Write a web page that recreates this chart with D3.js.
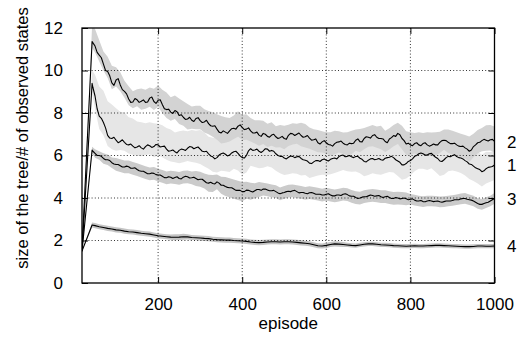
<!DOCTYPE html>
<html><head><meta charset="utf-8">
<script src="https://cdn.jsdelivr.net/npm/d3@7"></script>
<style>
html,body{margin:0;padding:0;background:#fff;}
svg{display:block;}
text{font-family:"Liberation Sans",Arial,Helvetica,sans-serif;fill:#000;}
</style></head>
<body>
<svg id="chart" width="520" height="341"></svg>
<script>
// ---------------- data ----------------
// main samples: episodes 19, 43, 50, 60, ..., 1000
const episodes = [19, 43].concat(d3.range(50, 1001, 10));
// in-between samples: episodes 45, 55, ..., 995
const midEpisodes = d3.range(45, 1000, 10);
const xTicks = [200, 400, 600, 800, 1000];
const yTicks = [0, 2, 4, 6, 8, 10, 12];

const s2 = [1.6, 11.36,
  11.15, 10.72, 10.3, 9.95, 9.42, 9.55, 9.32, 9.02, 8.66, 8.52,
  8.62, 8.55, 8.5, 8.7, 8.54, 8.6, 8.4, 8.16, 8.04, 8.12,
  7.88, 7.8, 7.72, 7.66, 7.74, 7.64, 7.58, 7.5, 7.38, 7.24,
  7.06, 7.1, 7.16, 7.28, 7.38, 7.32, 7.24, 7.16, 7.06, 6.96,
  7.04, 6.9, 6.96, 6.88, 6.84, 6.8, 6.95, 7.02, 7.0, 6.94,
  6.88, 6.82, 6.74, 6.6, 6.64, 6.6, 6.5, 6.56, 6.64, 6.58,
  6.5, 6.56, 6.72, 6.65, 6.8, 6.86, 6.94, 6.86, 6.8, 6.66,
  6.78, 6.94, 7.04, 6.8, 6.54, 6.5, 6.56, 6.5, 6.56, 6.5,
  6.48, 6.5, 6.62, 6.72, 6.62, 6.56, 6.5, 6.42, 6.36, 6.2,
  6.42, 6.6, 6.7, 6.72, 6.74, 6.66];
const s2Mid = [
  11.3, 10.85, 10.6, 10.0, 9.75, 9.3, 9.62, 9.1, 8.9, 8.5,
  8.68, 8.5, 8.62, 8.52, 8.75, 8.45, 8.62, 8.2, 8.18, 7.98,
  8.06, 7.92, 7.7, 7.8, 7.6, 7.78, 7.55, 7.66, 7.4, 7.4,
  7.1, 7.16, 7.04, 7.26, 7.24, 7.44, 7.22, 7.3, 7.06, 7.1,
  6.9, 7.0, 6.86, 7.0, 6.8, 6.9, 6.76, 7.04, 6.94, 7.06,
  6.86, 6.94, 6.72, 6.78, 6.54, 6.7, 6.52, 6.44, 6.62, 6.68,
  6.52, 6.58, 6.58, 6.78, 6.64, 6.88, 6.82, 6.98, 6.8, 6.78,
  6.6, 6.84, 6.9, 6.98, 6.7, 6.58, 6.46, 6.6, 6.46, 6.6,
  6.44, 6.54, 6.5, 6.7, 6.7, 6.56, 6.58, 6.44, 6.44, 6.3,
  6.26, 6.5, 6.62, 6.76, 6.68, 6.76];
const s2Up = [0, .75,
  .8, .7, .6, .7, .8, .6, .6, .5, .6, .5,
  .5, .6, .6, .5, .6, .7, .7, .8, .7, .7,
  .8, .75, .7, .65, .6, .7, .6, .6, .65, .7,
  .8, .7, .6, .6, .7, .6, .7, .6, .6, .7,
  .6, .6, .6, .5, .6, .6, .5, .5, .5, .6,
  .6, .5, .5, .6, .5, .5, .6, .6, .5, .5,
  .6, .6, .5, .6, .5, .5, .5, .5, .6, .5,
  .5, .5, .5, .6, .6, .6, .5, .6, .5, .6,
  .6, .6, .5, .5, .6, .6, .6, .6, .6, .7,
  .6, .6, .6, .7, .7, .7];
const s2Dn = [0, .3,
  .3, .3, .3, .3, .3, .3, .3, .3, .3, .3,
  .3, .4, .3, .4, .4, .3, .4, .4, .4, .4,
  .4, .4, .5, .4, .5, .4, .5, .5, .5, .5,
  .5, .5, .5, .5, .5, .6, .5, .5, .5, .5,
  .5, .5, .5, .5, .45, .5, .5, .5, .45, .5,
  .5, .5, .5, .45, .5, .5, .5, .5, .5, .5,
  .5, .5, .5, .5, .5, .45, .5, .5, .5, .5,
  .5, .5, .5, .5, .5, .5, .45, .5, .5, .5,
  .5, .5, .5, .45, .5, .5, .5, .5, .5, .5,
  .5, .5, .5, .5, .5, .5];

const s1 = [1.5, 9.4,
  8.8, 7.85, 7.55, 6.95, 6.8, 6.72, 6.66, 6.62, 6.5, 6.44,
  6.4, 6.36, 6.42, 6.46, 6.42, 6.5, 6.42, 6.3, 6.22, 6.18,
  6.24, 6.28, 6.34, 6.4, 6.36, 6.3, 6.18, 6.08, 5.94, 5.9,
  6.08, 6.06, 6.02, 6.18, 6.1, 5.9, 6.0, 6.32, 6.26, 6.2,
  6.22, 6.3, 6.24, 6.08, 5.96, 5.88, 5.92, 5.96, 5.94, 5.86,
  5.78, 5.64, 5.7, 5.76, 5.8, 5.78, 5.82, 5.88, 5.95, 6.02,
  5.96, 5.94, 5.95, 5.87, 5.72, 5.78, 5.86, 5.82, 5.8, 5.87,
  5.92, 5.9, 5.74, 5.56, 5.62, 5.76, 5.96, 6.08, 6.08, 6.02,
  6.1, 5.92, 5.74, 5.8, 5.96, 6.0, 5.95, 5.88, 5.76, 5.6,
  5.5, 5.38, 5.24, 5.38, 5.46, 5.55];
const s1Mid = [
  9.2, 8.2, 7.75, 7.3, 6.82, 6.86, 6.6, 6.74, 6.52, 6.54,
  6.36, 6.46, 6.3, 6.5, 6.38, 6.52, 6.4, 6.44, 6.2, 6.26,
  6.12, 6.3, 6.24, 6.42, 6.32, 6.4, 6.2, 6.2, 5.98, 5.84,
  6.02, 6.12, 5.98, 6.12, 6.2, 5.98, 5.88, 6.22, 6.24, 6.3,
  6.14, 6.32, 6.2, 6.2, 6.0, 5.96, 5.84, 5.98, 5.9, 5.96,
  5.8, 5.74, 5.62, 5.76, 5.72, 5.84, 5.74, 5.86, 5.84, 6.0,
  5.94, 6.0, 5.9, 5.96, 5.82, 5.7, 5.84, 5.8, 5.86, 5.78,
  5.9, 5.96, 5.8, 5.68, 5.56, 5.72, 5.84, 6.0, 6.12, 6.02,
  6.08, 6.0, 5.86, 5.72, 5.9, 5.94, 6.04, 5.9, 5.84, 5.7,
  5.58, 5.42, 5.34, 5.28, 5.44, 5.48];
const s1Up = [0, .6,
  1.0, 1.4, 1.5, 1.6, 1.6, 1.5, 1.4, 1.4, 1.3, 1.3,
  1.2, 1.2, 1.1, 1.1, 1.1, 1.0, 1.0, 1.0, 1.0, .9,
  .9, .9, .8, .8, .8, .9, .9, .8, .9, .9,
  .8, .8, .8, .8, .8, .8, .8, .7, .8, .8,
  .8, .8, .8, .8, .8, .8, .8, .8, .8, .8,
  .8, .8, .8, .8, .8, .7, .7, .7, .7, .7,
  .7, .7, .7, .7, .8, .8, .7, .7, .7, .7,
  .7, .7, .8, .8, .8, .7, .7, .7, .7, .7,
  .7, .8, .8, .8, .7, .7, .7, .7, .7, .7,
  .7, .8, .8, .8, .7, .7];
const s1Dn = [0, .5,
  .6, .6, .6, .5, .5, .5, .4, .4, .4, .4,
  .4, .4, .4, .4, .5, .5, .5, .5, .5, .5,
  .6, .6, .6, .7, .7, .7, .7, .7, .7, .7,
  .8, .8, .8, .8, .8, .8, .8, .8, .8, .8,
  .8, .8, .8, .8, .8, .8, .8, .8, .8, .8,
  .7, .7, .7, .7, .7, .7, .7, .7, .7, .7,
  .7, .7, .7, .7, .7, .7, .7, .7, .7, .7,
  .7, .7, .7, .7, .7, .7, .7, .7, .7, .7,
  .7, .7, .7, .7, .7, .7, .7, .7, .7, .7,
  .7, .7, .7, .7, .7, .7];

const s3 = [1.5, 6.26,
  6.1, 6.0, 5.86, 5.8, 5.66, 5.58, 5.52, 5.46, 5.47, 5.4,
  5.34, 5.26, 5.2, 5.14, 5.16, 5.08, 5.02, 4.95, 4.98, 4.96,
  4.92, 4.98, 5.0, 4.95, 4.92, 4.88, 4.8, 4.7, 4.68, 4.76,
  4.6, 4.54, 4.48, 4.42, 4.36, 4.3, 4.37, 4.32, 4.34, 4.4,
  4.42, 4.38, 4.34, 4.3, 4.2, 4.26, 4.32, 4.34, 4.3, 4.26,
  4.22, 4.25, 4.22, 4.18, 4.14, 4.18, 4.14, 4.1, 4.14, 4.18,
  4.16, 4.08, 4.02, 4.0, 4.06, 4.1, 4.12, 4.1, 4.06, 4.06,
  4.02, 3.98, 4.0, 3.98, 3.96, 3.94, 3.9, 3.86, 3.83, 3.86,
  3.86, 3.85, 3.82, 3.83, 3.86, 3.88, 3.92, 3.96, 3.98, 3.92,
  3.86, 3.74, 3.7, 3.78, 3.86, 3.98];
const s3Mid = [
  6.2, 6.0, 5.96, 5.8, 5.76, 5.6, 5.58, 5.46, 5.5, 5.4,
  5.42, 5.28, 5.26, 5.14, 5.18, 5.1, 5.08, 4.96, 5.0, 4.92,
  5.0, 4.9, 5.02, 4.94, 4.98, 4.86, 4.88, 4.72, 4.74, 4.66,
  4.7, 4.6, 4.5, 4.48, 4.36, 4.36, 4.3, 4.36, 4.28, 4.4,
  4.36, 4.42, 4.34, 4.36, 4.24, 4.24, 4.3, 4.3, 4.36, 4.24,
  4.26, 4.2, 4.26, 4.18, 4.18, 4.14, 4.2, 4.1, 4.14, 4.12,
  4.2, 4.1, 4.08, 3.98, 4.04, 4.06, 4.14, 4.08, 4.12, 4.02,
  4.08, 3.98, 4.02, 3.96, 4.0, 3.92, 3.96, 3.86, 3.88, 3.82,
  3.88, 3.83, 3.86, 3.8, 3.86, 3.86, 3.92, 3.92, 3.98, 3.94,
  3.9, 3.8, 3.7, 3.74, 3.8, 3.92];
const s3Band = [0, .15,
  .2, .2, .25, .25, .25, .3, .3, .3, .3, .3,
  .3, .3, .3, .3, .3, .3, .3, .3, .3, .3,
  .3, .3, .3, .3, .35, .35, .35, .4, .4, .35,
  .4, .45, .45, .45, .45, .45, .4, .4, .35, .35,
  .3, .3, .3, .3, .3, .3, .3, .3, .3, .3,
  .3, .3, .3, .3, .3, .3, .3, .3, .3, .3,
  .3, .3, .3, .3, .3, .3, .3, .3, .3, .3,
  .3, .3, .3, .3, .3, .25, .25, .25, .25, .25,
  .25, .25, .25, .25, .25, .25, .25, .25, .25, .25,
  .25, .25, .25, .25, .25, .25];

const s4 = [1.5, 2.73,
  2.7, 2.65, 2.61, 2.57, 2.54, 2.5, 2.48, 2.44, 2.41, 2.4,
  2.37, 2.34, 2.32, 2.3, 2.26, 2.22, 2.2, 2.18, 2.16, 2.15,
  2.16, 2.18, 2.17, 2.14, 2.13, 2.12, 2.1, 2.09, 2.06, 2.04,
  2.03, 2.02, 2.02, 2.0, 1.99, 1.98, 1.96, 1.93, 1.91, 1.9,
  1.91, 1.93, 1.94, 1.94, 1.93, 1.94, 1.94, 1.93, 1.91, 1.89,
  1.87, 1.85, 1.8, 1.75, 1.74, 1.77, 1.81, 1.84, 1.83, 1.81,
  1.79, 1.77, 1.76, 1.79, 1.82, 1.84, 1.84, 1.82, 1.8, 1.79,
  1.78, 1.76, 1.75, 1.74, 1.73, 1.74, 1.75, 1.74, 1.74, 1.75,
  1.76, 1.77, 1.77, 1.76, 1.75, 1.74, 1.73, 1.72, 1.71, 1.71,
  1.72, 1.74, 1.74, 1.73, 1.73, 1.74];
const s4Band = [0, .12,
  .12, .12, .12, .12, .12, .12, .12, .12, .12, .12,
  .12, .12, .12, .12, .12, .12, .12, .12, .12, .14,
  .14, .14, .12, .12, .12, .12, .12, .12, .12, .12,
  .12, .12, .12, .12, .12, .12, .12, .12, .12, .12,
  .12, .12, .12, .12, .12, .12, .12, .12, .12, .12,
  .12, .12, .12, .12, .12, .12, .12, .12, .12, .12,
  .1, .1, .1, .1, .1, .1, .1, .1, .1, .1,
  .1, .1, .1, .1, .1, .1, .1, .1, .1, .1,
  .1, .1, .1, .1, .1, .1, .1, .1, .1, .1,
  .1, .1, .1, .1, .1, .1];

// ---------------- layout ----------------
const svg = d3.select("#chart");
const L = 82, R = 494.5, T = 28, B = 283;
const x = d3.scaleLinear().domain([19, 1000]).range([L, R]);
const y = d3.scaleLinear().domain([0, 12]).range([B, T]);

const series = [
  {name: "1", v: s1, mid: s1Mid, up: s1Up, dn: s1Dn, fill: "#e6e6e6"},
  {name: "2", v: s2, mid: s2Mid, up: s2Up, dn: s2Dn, fill: "#d3d3d3"},
  {name: "3", v: s3, mid: s3Mid, up: s3Band, dn: s3Band, fill: "#cbcbcb"},
  {name: "4", v: s4, mid: null, up: s4Band, dn: s4Band, fill: "#c4c4c4"}
];
series.forEach(s => {
  const n = Math.min(episodes.length, s.v.length, s.up.length, s.dn.length);
  s.band = d3.range(n).map(i => ({e: episodes[i], hi: s.v[i] + s.up[i], lo: s.v[i] - s.dn[i]}));
  let pts = d3.range(n).map(i => ({e: episodes[i], v: s.v[i]}));
  if (s.mid) {
    const m = Math.min(midEpisodes.length, s.mid.length);
    pts = pts.concat(d3.range(m).map(i => ({e: midEpisodes[i], v: s.mid[i]})));
  }
  s.pts = pts.sort((a, b) => a.e - b.e);
});

svg.append("defs").append("clipPath").attr("id", "clip")
  .append("rect").attr("x", L).attr("y", T).attr("width", R - L).attr("height", B - T);

const plot = svg.append("g").attr("clip-path", "url(#clip)");
const area = d3.area().x(d => x(d.e)).y0(d => y(d.lo)).y1(d => y(d.hi));
const line = d3.line().x(d => x(d.e)).y(d => y(d.v));

series.forEach(s => {
  plot.append("path").attr("d", area(s.band)).attr("fill", s.fill).attr("stroke", "none");
});

// grid
const grid = svg.append("g").attr("stroke", "#000").attr("stroke-width", 0.8).attr("stroke-dasharray", "1,2.2");
xTicks.filter(t => t < 1000).forEach(t => {
  grid.append("line").attr("x1", x(t)).attr("x2", x(t)).attr("y1", T).attr("y2", B);
});
yTicks.filter(t => t > 0 && t < 12).forEach(t => {
  grid.append("line").attr("x1", L).attr("x2", R).attr("y1", y(t)).attr("y2", y(t));
});

series.forEach(s => {
  plot.append("path").attr("d", line(s.pts)).attr("fill", "none")
    .attr("stroke", "#000").attr("stroke-width", 1.1).attr("stroke-linejoin", "round");
});

// axes (ticks inward on all sides)
const tk = 6, fs = "17px";
const axB = svg.append("g").attr("transform", `translate(0,${B})`)
  .call(d3.axisBottom(x).tickValues(xTicks).tickFormat(d3.format("d")).tickSize(-tk).tickPadding(tk + 9).tickSizeOuter(0));
const axT = svg.append("g").attr("transform", `translate(0,${T})`)
  .call(d3.axisTop(x).tickValues(xTicks).tickSize(-tk).tickFormat("").tickSizeOuter(0));
const axL = svg.append("g").attr("transform", `translate(${L},0)`)
  .call(d3.axisLeft(y).tickValues(yTicks).tickSize(-tk).tickPadding(tk + 13).tickSizeOuter(0));
const axR = svg.append("g").attr("transform", `translate(${R},0)`)
  .call(d3.axisRight(y).tickValues(yTicks).tickSize(-tk).tickFormat("").tickSizeOuter(0));
[axB, axT, axL, axR].forEach(a => {
  a.select(".domain").remove();
  a.selectAll("line").attr("stroke", "#000").attr("stroke-width", 1);
  a.selectAll("text").style("font-size", fs).attr("fill", "#000");
});

svg.append("rect").attr("x", L).attr("y", T).attr("width", R - L).attr("height", B - T)
  .attr("fill", "none").attr("stroke", "#000").attr("stroke-width", 1.3);

// series labels at right
series.forEach(s => {
  const last = s.pts[s.pts.length - 1];
  svg.append("text").attr("x", 507).attr("y", y(last.v)).attr("dy", "0.36em")
    .style("font-size", fs).text(s.name);
});

// axis titles
svg.append("text").attr("x", (L + R) / 2).attr("y", 329).attr("text-anchor", "middle")
  .style("font-size", fs).text("episode");
svg.append("text").attr("transform", "translate(28,138) rotate(-90)").attr("text-anchor", "middle")
  .style("font-size", "16.5px").text("size of the tree/# of observed states");
</script>
</body></html>
